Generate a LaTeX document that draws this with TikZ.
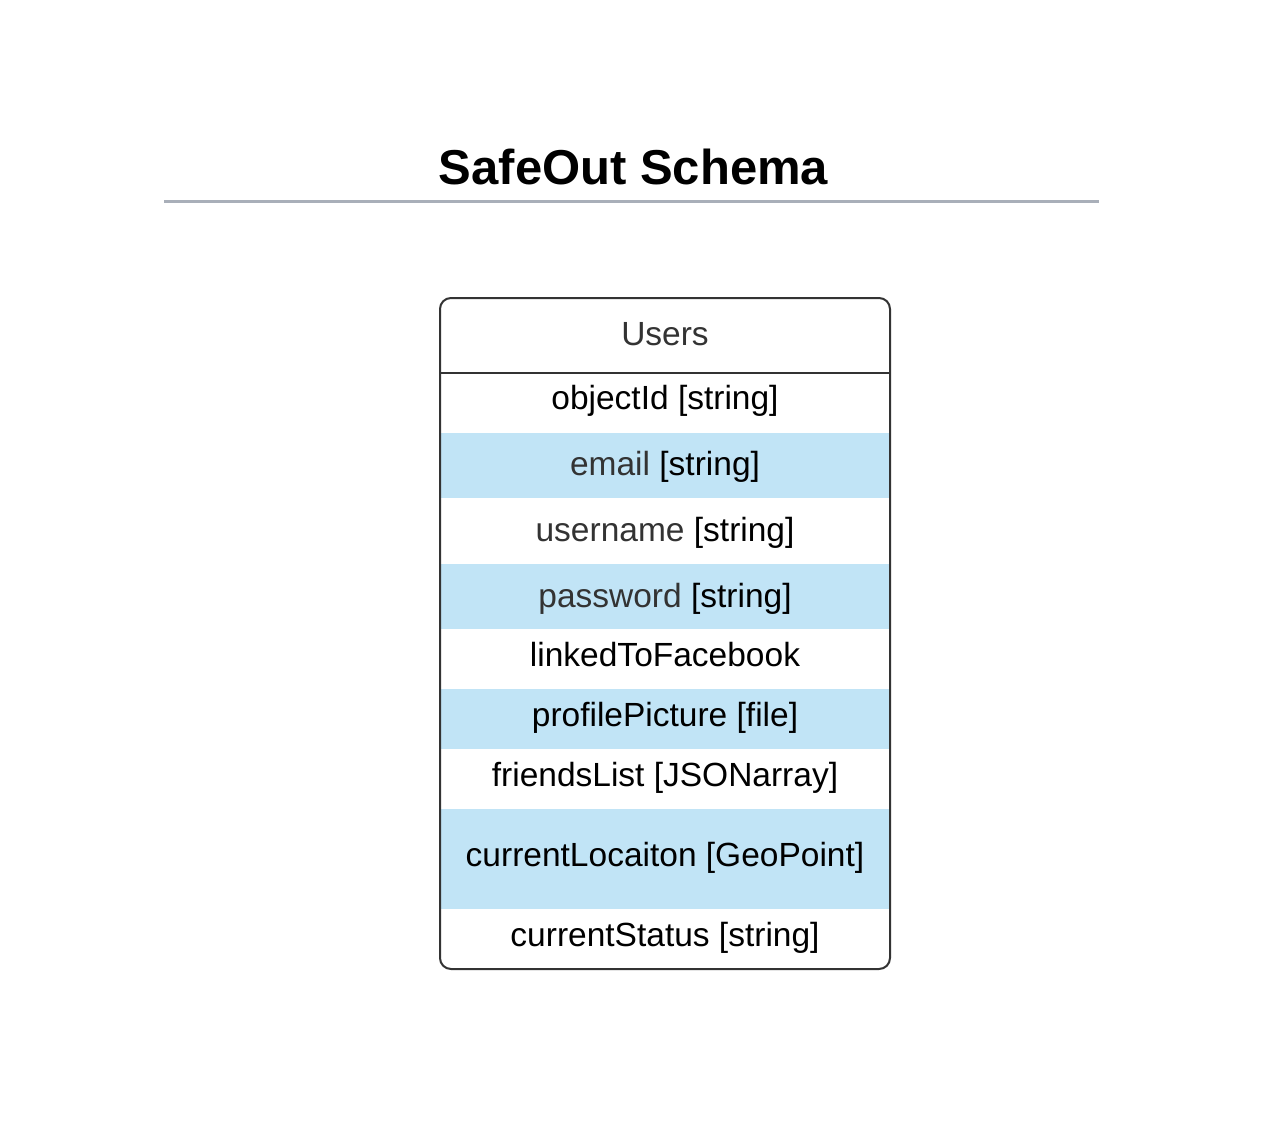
\documentclass[tikz,border=0pt]{standalone}
\usepackage{fontspec}
\setmainfont{Liberation Sans}
\definecolor{rowblue}{RGB}{193,228,246}
\definecolor{rulegray}{RGB}{169,175,185}
\definecolor{darktext}{RGB}{51,51,51}
\definecolor{border}{RGB}{51,51,51}
\tikzset{
  field/.style={anchor=base, inner sep=0pt, font=\fontsize{33.5}{40}\selectfont, text=black},
  titletext/.style={anchor=base, inner sep=0pt, font=\fontsize{49}{58}\selectfont\bfseries, text=black},
  bluerow/.style={fill=rowblue, draw=none},
}
\begin{document}
\begin{tikzpicture}[x=1pt,y=-1pt]
\useasboundingbox (0,0) rectangle (1288,1129);
\fill[white] (0,0) rectangle (1288,1129);
% title
\node[titletext] (title) at (633.5,185) {SafeOut Schema};
\draw[rulegray, line width=3pt] (164,201.5) -- (1099,201.5);
% blue rows
\fill[bluerow] (440,433) rectangle (890,498);
\fill[bluerow] (440,564) rectangle (890,629);
\fill[bluerow] (440,689) rectangle (890,749);
\fill[bluerow] (440,809) rectangle (890,909);
% header separator
\draw[border, line width=2pt] (440,373) -- (890,373);
% outline
\draw[border, line width=2pt, rounded corners=11pt] (440,298) rectangle (890,969);
% texts
\node[field, text=darktext] (users) at (665,345) {Users};
\node[field] (f1) at (665,409) {objectId [string]};
\node[field] (f2) at (665,475) {\textcolor{darktext}{email} [string]};
\node[field] (f3) at (665,541) {\textcolor{darktext}{username} [string]};
\node[field] (f4) at (665,607) {\textcolor{darktext}{password} [string]};
\node[field] (f5) at (665,666) {linkedToFacebook};
\node[field] (f6) at (665,726) {profilePicture [file]};
\node[field] (f7) at (665,786) {friendsList [JSONarray]};
\node[field] (f8) at (665,866) {currentLocaiton [GeoPoint]};
\node[field] (f9) at (665,946) {currentStatus [string]};
\end{tikzpicture}
\end{document}
